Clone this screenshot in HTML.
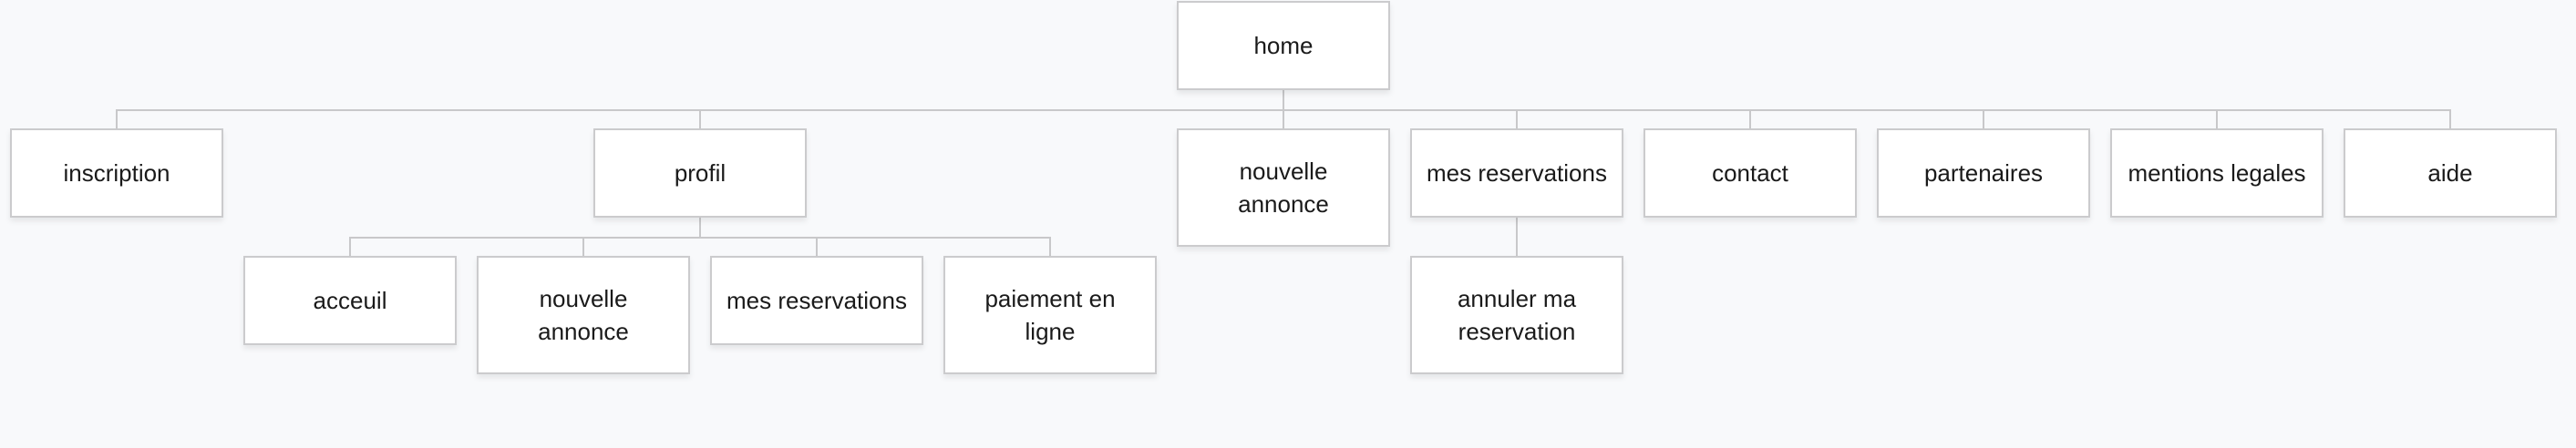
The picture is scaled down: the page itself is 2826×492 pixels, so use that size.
<!DOCTYPE html>
<html><head><meta charset="utf-8"><style>
html,body{margin:0;padding:0}
body{width:2826px;height:492px;background:#f8f9fb;position:relative;overflow:hidden;font-family:"Liberation Sans",sans-serif}
.b{position:absolute;box-sizing:border-box;width:234px;height:98px;background:#fff;border:2px solid #cbcbcd;box-shadow:0 4px 6px rgba(0,0,0,0.08);display:flex;align-items:center;justify-content:center;text-align:center;font-size:26px;line-height:36px;color:#1a1a1a}
.t{height:130px}
.h{position:absolute;height:2px;background:#c8c8ca}
.v{position:absolute;width:2px;background:#c8c8ca}
</style></head><body>
<div class="v" style="left:1407px;top:98px;height:24px"></div>
<div class="h" style="left:127px;top:120px;width:2562px"></div>
<div class="v" style="left:127px;top:120px;height:22px"></div>
<div class="v" style="left:767px;top:120px;height:22px"></div>
<div class="v" style="left:1407px;top:120px;height:22px"></div>
<div class="v" style="left:1663px;top:120px;height:22px"></div>
<div class="v" style="left:1919px;top:120px;height:22px"></div>
<div class="v" style="left:2175px;top:120px;height:22px"></div>
<div class="v" style="left:2431px;top:120px;height:22px"></div>
<div class="v" style="left:2687px;top:120px;height:22px"></div>
<div class="v" style="left:767px;top:238px;height:24px"></div>
<div class="h" style="left:383px;top:260px;width:770px"></div>
<div class="v" style="left:383px;top:260px;height:22px"></div>
<div class="v" style="left:639px;top:260px;height:22px"></div>
<div class="v" style="left:895px;top:260px;height:22px"></div>
<div class="v" style="left:1151px;top:260px;height:22px"></div>
<div class="v" style="left:1663px;top:238px;height:44px"></div>

<div class="b" style="left:1291px;top:1px">home</div>
<div class="b" style="left:11px;top:141px">inscription</div>
<div class="b" style="left:651px;top:141px">profil</div>
<div class="b t" style="left:1291px;top:141px">nouvelle<br>annonce</div>
<div class="b" style="left:1547px;top:141px">mes reservations</div>
<div class="b" style="left:1803px;top:141px">contact</div>
<div class="b" style="left:2059px;top:141px">partenaires</div>
<div class="b" style="left:2315px;top:141px">mentions legales</div>
<div class="b" style="left:2571px;top:141px">aide</div>
<div class="b" style="left:267px;top:281px">acceuil</div>
<div class="b t" style="left:523px;top:281px">nouvelle<br>annonce</div>
<div class="b" style="left:779px;top:281px">mes reservations</div>
<div class="b t" style="left:1035px;top:281px">paiement en<br>ligne</div>
<div class="b t" style="left:1547px;top:281px">annuler ma<br>reservation</div>
</body></html>
